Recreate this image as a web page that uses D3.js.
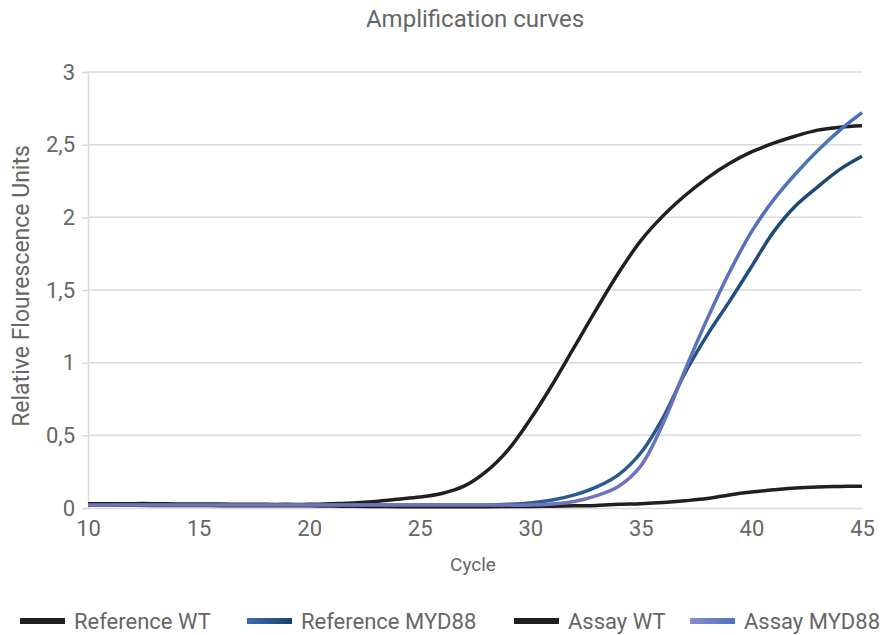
<!DOCTYPE html>
<html>
<head>
<meta charset="utf-8">
<script src="https://cdn.jsdelivr.net/npm/d3@7"></script>
<style>
  body { margin: 0; background: #fff; }
  text { font-family: Roboto, "Liberation Sans", sans-serif; fill: #666; }
</style>
</head>
<body>
<div id="chart"></div>
<script>
// data
var cycles = d3.range(10, 46);
var referenceWT = [0.03, 0.03, 0.03, 0.03, 0.028, 0.028, 0.027, 0.026, 0.025, 0.025,
  0.025, 0.03, 0.035, 0.045, 0.06, 0.075, 0.1, 0.15, 0.25, 0.40,
  0.61, 0.85, 1.11, 1.37, 1.62, 1.84, 2.01, 2.15, 2.27, 2.37,
  2.45, 2.51, 2.56, 2.60, 2.62, 2.63];
var referenceMYD88 = [0.02, 0.02, 0.02, 0.02, 0.02, 0.02, 0.02, 0.02, 0.02, 0.02,
  0.02, 0.02, 0.02, 0.02, 0.02, 0.02, 0.02, 0.02, 0.02, 0.025,
  0.035, 0.055, 0.09, 0.145, 0.23, 0.38, 0.62, 0.93, 1.19, 1.42,
  1.66, 1.90, 2.08, 2.21, 2.33, 2.42];
var assayWT = [0.02, 0.02, 0.019, 0.018, 0.018, 0.017, 0.016, 0.016, 0.015, 0.015,
  0.015, 0.013, 0.012, 0.01, 0.009, 0.008, 0.008, 0.008, 0.009, 0.01,
  0.01, 0.012, 0.015, 0.018, 0.025, 0.03, 0.038, 0.05, 0.065, 0.09,
  0.11, 0.125, 0.138, 0.145, 0.148, 0.15];
var assayMYD88 = [0.02, 0.02, 0.02, 0.02, 0.02, 0.02, 0.02, 0.02, 0.02, 0.02,
  0.02, 0.02, 0.02, 0.02, 0.02, 0.02, 0.02, 0.02, 0.02, 0.02,
  0.02, 0.028, 0.045, 0.085, 0.15, 0.29, 0.58, 0.95, 1.30, 1.62,
  1.90, 2.12, 2.30, 2.46, 2.60, 2.72];

var seriesNames = ["Reference WT", "Reference MYD88", "Assay WT", "Assay MYD88"];
var xTicks = [10, 15, 20, 25, 30, 35, 40, 45];
var yTicks = [0, 0.5, 1, 1.5, 2, 2.5, 3];

var W = 885, H = 635;
var margin = {top: 72, right: 23, bottom: 127, left: 88},
    width = W - margin.left - margin.right,
    height = H - margin.top - margin.bottom;

var svg = d3.select("#chart")
  .append("svg")
    .attr("width", W)
    .attr("height", H);

var defs = svg.append("defs");
// the MYD88 lines shade from the bottom to the top
function vGrad(id, bottom, top) {
  var g = defs.append("linearGradient")
    .attr("id", id)
    .attr("gradientUnits", "userSpaceOnUse")
    .attr("x1", 0).attr("x2", 0)
    .attr("y1", height).attr("y2", 0);
  g.append("stop").attr("offset", "0%").attr("stop-color", bottom);
  g.append("stop").attr("offset", "100%").attr("stop-color", top);
}
vGrad("gRefMyd", "#2a5d93", "#17416a");
vGrad("gAssayMyd", "#6f75bb", "#4370bd");
// legend swatches
function hGrad(id, left, right) {
  var g = defs.append("linearGradient").attr("id", id);
  g.append("stop").attr("offset", "0%").attr("stop-color", left);
  g.append("stop").attr("offset", "100%").attr("stop-color", right);
}
hGrad("lRefMyd", "#3a6db5", "#17416a");
hGrad("lAssayMyd", "#8c8cca", "#4a73c0");

var colors = ["#231f20", "url(#gRefMyd)", "#231f20", "url(#gAssayMyd)"];
var legendColors = ["#231f20", "url(#lRefMyd)", "#231f20", "url(#lAssayMyd)"];

var g = svg.append("g")
  .attr("transform", "translate(" + margin.left + "," + margin.top + ")");

var x = d3.scaleLinear().domain([10, 45]).range([0, width]);
var y = d3.scaleLinear().domain([0, 3]).range([height, 0]);

// grid
g.append("g")
  .selectAll("line")
  .data(yTicks.slice(1))
  .enter().append("line")
    .attr("x1", 0).attr("x2", width)
    .attr("y1", function(d) { return y(d); })
    .attr("y2", function(d) { return y(d); })
    .attr("stroke", "#d9d9d9")
    .attr("stroke-width", 1.5);

// y axis
var fmt = function(d) { return String(d).replace(".", ","); };
var yAxis = g.append("g")
  .call(d3.axisLeft(y).tickValues(yTicks).tickFormat(fmt).tickSize(6).tickPadding(7));
yAxis.select(".domain").attr("stroke", "#d9d9d9").attr("stroke-width", 1.5);
yAxis.selectAll(".tick line").attr("stroke", "#d9d9d9").attr("stroke-width", 1.5);
yAxis.selectAll("text")
  .attr("font-family", "Roboto, sans-serif")
  .attr("font-size", 22)
  .attr("fill", "#666");

// x axis
var xAxis = g.append("g")
  .attr("transform", "translate(0," + height + ")")
  .call(d3.axisBottom(x).tickValues(xTicks).tickSize(0).tickPadding(12));
xAxis.select(".domain").attr("stroke", "#d9d9d9").attr("stroke-width", 1.5);
xAxis.selectAll("text")
  .attr("font-family", "Roboto, sans-serif")
  .attr("font-size", 22)
  .attr("fill", "#666");

// lines
var line = d3.line()
  .curve(d3.curveCatmullRom.alpha(0.5))
  .x(function(d) { return x(d[0]); })
  .y(function(d) { return y(d[1]); });

var allSeries = [referenceWT, referenceMYD88, assayWT, assayMYD88];
allSeries.forEach(function(vals, i) {
  g.append("path")
    .datum(cycles.map(function(c, j) { return [c, vals[j]]; }))
    .attr("fill", "none")
    .attr("stroke", colors[i])
    .attr("stroke-width", 3.5)
    .attr("stroke-linejoin", "round")
    .attr("d", line);
});

// title and axis labels
svg.append("text")
  .attr("x", 475).attr("y", 27)
  .attr("text-anchor", "middle")
  .attr("font-size", 24)
  .text("Amplification curves");

svg.append("text")
  .attr("x", 473).attr("y", 571)
  .attr("text-anchor", "middle")
  .attr("font-size", 19)
  .text("Cycle");

svg.append("text")
  .attr("transform", "translate(29," + (margin.top + height / 2 - 4) + ") rotate(-90)")
  .attr("text-anchor", "middle")
  .attr("font-size", 23)
  .text("Relative Flourescence Units");

// legend
var legendX = [20, 247, 514, 690];
var legend = svg.append("g").attr("transform", "translate(0,621)");
seriesNames.forEach(function(name, i) {
  legend.append("rect")
    .attr("x", legendX[i]).attr("y", -3)
    .attr("width", 45).attr("height", 6)
    .attr("fill", legendColors[i]);
  legend.append("text")
    .attr("x", legendX[i] + 54).attr("y", 8)
    .attr("font-size", 22)
    .text(name);
});
</script>
</body>
</html>
